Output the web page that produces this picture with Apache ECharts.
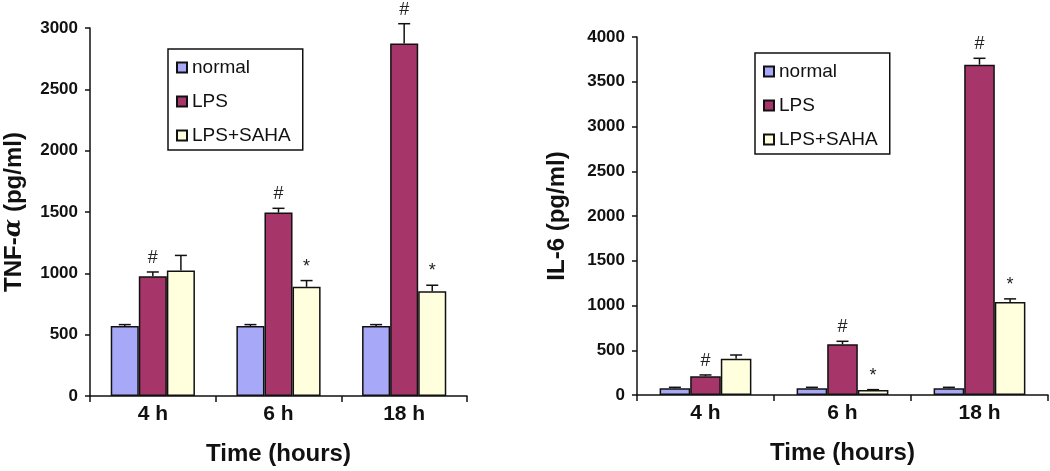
<!DOCTYPE html>
<html>
<head>
<meta charset="utf-8">
<script src="https://cdn.jsdelivr.net/npm/echarts@6/dist/echarts.min.js"></script>
<style>html,body{margin:0;padding:0;background:#fff;}#c{width:1050px;height:471px;}</style>
</head>
<body>
<div id="c"></div>
<script>
var categories = ['4 h', '6 h', '18 h'];
var seriesNames = ['normal', 'LPS', 'LPS+SAHA'];

// TNF-alpha (pg/ml): means and upper error-bar ends
var tnfNormal = [570, 570, 570];
var tnfNormalUpper = [582, 582, 582];
var tnfLPS = [976, 1495, 2873];
var tnfLPSUpper = [1011, 1530, 3035];
var tnfSAHA = [1024, 890, 854];
var tnfSAHAUpper = [1146, 941, 903];
var tnfMarksLPS = ['#', '#', '#'];
var tnfMarksSAHA = ['', '*', '*'];

// IL-6 (pg/ml)
var il6Normal = [75, 75, 75];
var il6NormalUpper = [86, 86, 86];
var il6LPS = [209, 567, 3691];
var il6LPSUpper = [224, 600, 3762];
var il6SAHA = [406, 56, 1040];
var il6SAHAUpper = [447, 60, 1074];
var il6MarksLPS = ['#', '#', '#'];
var il6MarksSAHA = ['', '*', '*'];

var tnfTicks = {min: 0, max: 3000, interval: 500};
var il6Ticks = {min: 0, max: 4000, interval: 500};

var colors = ['#a8a8f8', '#a6366a', '#ffffde'];
var GAP = 0.33;
var FONT = 'Liberation Sans, Arial, sans-serif';

function errSeries(gridIdx, k, means, uppers, marks) {
  var data = means.map(function (m, i) { return [i, m, uppers[i]]; });
  return {
    type: 'custom', xAxisIndex: gridIdx, yAxisIndex: gridIdx, z: 5,
    silent: true,
    data: data,
    renderItem: function (params, api) {
      var idx = api.value(0);
      var bw = api.size([1, 0])[0] * (1 - GAP) / 3;
      var base = api.coord([idx, api.value(1)]);
      var up = api.coord([idx, api.value(2)]);
      var xc = base[0] + (k - 1) * bw;
      var cap = 6;
      var children = [
        {type: 'line', shape: {x1: xc, y1: base[1], x2: xc, y2: up[1]}, style: {stroke: '#111', lineWidth: 1.5}},
        {type: 'line', shape: {x1: xc - cap, y1: up[1], x2: xc + cap, y2: up[1]}, style: {stroke: '#111', lineWidth: 1.5}}
      ];
      var t = marks ? marks[params.dataIndex] : '';
      if (t) {
        children.push({type: 'text', style: {text: t, x: xc, y: up[1] - 5, textAlign: 'center', textVerticalAlign: 'bottom', font: '18px ' + FONT, fill: '#222'}});
      }
      return {type: 'group', children: children};
    }
  };
}

function barSeries(gridIdx, k, vals) {
  return {
    name: seriesNames[k], type: 'bar', xAxisIndex: gridIdx, yAxisIndex: gridIdx,
    data: vals, barGap: '0%', barCategoryGap: (GAP * 100) + '%',
    itemStyle: {color: colors[k], borderColor: '#111', borderWidth: 1.5},
    silent: true
  };
}

function xAxis(gridIdx) {
  return {
    type: 'category', gridIndex: gridIdx, data: categories,
    name: 'Time (hours)', nameLocation: 'middle', nameGap: 46,
    nameTextStyle: {fontFamily: FONT, fontWeight: 'bold', fontSize: 24, color: '#111'},
    axisLine: {lineStyle: {color: '#111', width: 1.5}},
    axisTick: {show: true, length: 6, lineStyle: {color: '#111', width: 1.5}},
    axisLabel: {fontFamily: FONT, fontWeight: 'bold', fontSize: 21, color: '#111', margin: 8}
  };
}

function yAxis(gridIdx, ticks, nameRich, gap) {
  return {
    type: 'value', gridIndex: gridIdx, min: ticks.min, max: ticks.max, interval: ticks.interval,
    name: nameRich, nameLocation: 'middle', nameGap: gap, nameRotate: 90,
    nameTextStyle: {
      fontFamily: FONT, fontWeight: 'bold', fontSize: 24, color: '#111',
      rich: {
        a: {fontFamily: FONT, fontWeight: 'bold', fontSize: 24, color: '#111'},
        b: {fontFamily: 'DejaVu Serif, serif', fontStyle: 'italic', fontWeight: 'bold', fontSize: 24, color: '#111'}
      }
    },
    axisLine: {show: true, lineStyle: {color: '#111', width: 1.5}},
    axisTick: {show: true, length: 5, lineStyle: {color: '#111', width: 1.5}},
    splitLine: {show: false},
    axisLabel: {fontFamily: FONT, fontWeight: 'bold', fontSize: 17, color: '#111', margin: 12,
      formatter: function (v) { return String(v); }}
  };
}

function legend(left, top) {
  return {
    data: seriesNames, orient: 'vertical', left: left, top: top,
    icon: 'rect', itemWidth: 10, itemHeight: 10, itemGap: 15,
    borderColor: '#111', borderWidth: 1.5, padding: [9, 12, 5, 8],
    textStyle: {fontFamily: FONT, fontSize: 19, color: '#111'},
    selectedMode: false
  };
}

var chart = echarts.init(document.getElementById('c'), null, {renderer: 'canvas'});
var option = {
  animation: false,
  backgroundColor: '#fff',
  grid: [
    {left: 90, right: 583, top: 28, bottom: 73},
    {left: 637, right: 2, top: 37, bottom: 76}
  ],
  legend: [legend(168, 49), legend(755, 53)],
  xAxis: [xAxis(0), xAxis(1)],
  yAxis: [
    yAxis(0, tnfTicks, '{a|TNF-}{b|α}{a| (pg/ml)}', 64),
    yAxis(1, il6Ticks, 'IL-6 (pg/ml)', 68)
  ],
  series: [
    barSeries(0, 0, tnfNormal), barSeries(0, 1, tnfLPS), barSeries(0, 2, tnfSAHA),
    barSeries(1, 0, il6Normal), barSeries(1, 1, il6LPS), barSeries(1, 2, il6SAHA),
    errSeries(0, 0, tnfNormal, tnfNormalUpper, null),
    errSeries(0, 1, tnfLPS, tnfLPSUpper, tnfMarksLPS),
    errSeries(0, 2, tnfSAHA, tnfSAHAUpper, tnfMarksSAHA),
    errSeries(1, 0, il6Normal, il6NormalUpper, null),
    errSeries(1, 1, il6LPS, il6LPSUpper, il6MarksLPS),
    errSeries(1, 2, il6SAHA, il6SAHAUpper, il6MarksSAHA)
  ]
};
chart.setOption(option);
</script>
</body>
</html>
